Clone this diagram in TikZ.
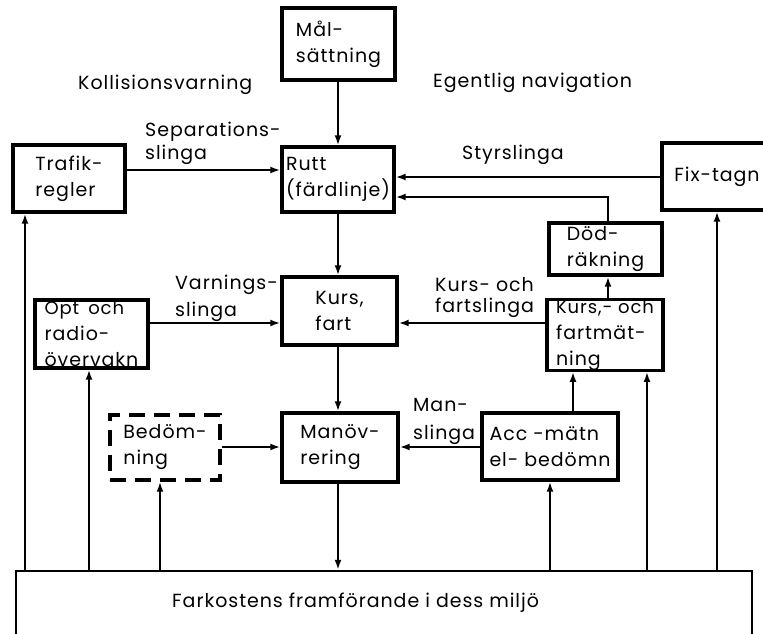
\documentclass[tikz,border=0pt]{standalone}
\usepackage{fontspec}
\setmainfont[LetterSpace=5]{Poppins}
\usetikzlibrary{arrows.meta}
\newcommand\figfont{\fontsize{19}{26}\selectfont}
\begin{document}
\begin{tikzpicture}[x=1pt,y=-1pt,
  box/.style={draw, line width=3.4pt, inner sep=0pt, align=left, font=\figfont},
  conn/.style={line width=2pt},
  arr/.style={conn, -{Latex[length=10pt,width=7pt]}},
  lbl/.style={font=\figfont, align=left, inner sep=0pt, anchor=west}]
\useasboundingbox (0,0) rectangle (763,633);
\clip (0,0) rectangle (763,633);
\fill[white] (0,0) rectangle (763,633);
% boxes
\node[box, minimum width=113, minimum height=72] (mal) at (338.5,44) {Mål-\\sättning};
\node[box, minimum width=112, minimum height=65] (rutt) at (338,179.5) {\fontsize{19}{28}\selectfont Rutt\\(färdlinje)};
\node[box, minimum width=112, minimum height=67] (trafik) at (69,178.5) {\fontsize{19}{28}\selectfont Trafik-\\regler};
\node[box, minimum width=110, minimum height=67] (fix) at (717,176.5) {Fix-tagn};
\node[box, minimum width=115, minimum height=68] (kursfart) at (339.5,311) {Kurs,\\fart};
\node[box, minimum width=116, minimum height=69] (manov) at (340,447.5) {\fontsize{19}{27}\selectfont Manöv-\\rering};
\node[box, minimum width=113, minimum height=68] (opt) at (91.5,334) {\fontsize{18}{20}\selectfont Opt\enspace och\\radio-\\övervakn};
\node[box, dash pattern=on 16pt off 9pt, minimum width=110, minimum height=65] (bedom) at (165,447.5) {Bedöm-\\ning};
\node[box, minimum width=113, minimum height=52] (dod) at (605.5,249) {\fontsize{19}{21}\selectfont Död-\\räkning};
\node[box, minimum width=116, minimum height=70] (kursoch) at (605,335) {\fontsize{18}{19}\selectfont Kurs,- och\\fartmät-\\ning};
\node[box, minimum width=136, minimum height=67] (acc) at (550,446.5) {Acc -mätn\\el- bedömn};
\node[draw, line width=2.4pt, minimum width=736, minimum height=64, inner sep=0pt] (env) at (384,603) {};
\node[lbl] (envtext) at (172,603) {Farkostens framförande i dess miljö};
% labels
\node[lbl] (kol) at (78,85) {Kollisionsvarning};
\node[lbl] (ege) at (433,83) {Egentlig navigation};
\node[lbl, font=\fontsize{19}{23}\selectfont] (sep) at (145,143.5) {Separations-\\slinga};
\node[lbl] (sty) at (462,155) {Styrslinga};
\node[lbl, font=\fontsize{19}{27}\selectfont] (var) at (175,298.5) {Varnings-\\slinga};
\node[lbl, font=\fontsize{19}{21}\selectfont] (kof) at (435,297.5) {Kurs- och\\fartslinga};
\node[lbl, font=\fontsize{19}{28}\selectfont] (man) at (413,421) {Man-\\slinga};
% coordinates
\coordinate (xa) at (25,0); \coordinate (xb) at (89,0); \coordinate (xc) at (160,0);
\coordinate (xd) at (550,0); \coordinate (xe) at (647,0); \coordinate (xf) at (717,0);
\coordinate (xg) at (573,0); \coordinate (xh) at (608,0); \coordinate (xm) at (338,0);
\coordinate (ya) at (0,170); \coordinate (yb) at (0,177); \coordinate (yc) at (0,197);
\coordinate (yd) at (0,323); \coordinate (ye) at (0,447);
% connectors
\draw[arr] (mal.south -| xm) -- (rutt.north -| xm);
\draw[arr] (trafik.east |- ya) -- (rutt.west |- ya);
\draw[arr] (fix.west |- yb) -- (rutt.east |- yb);
\draw[arr] (dod.north -| xh) |- (rutt.east |- yc);
\draw[arr] (rutt.south -| xm) -- (kursfart.north -| xm);
\draw[arr] (opt.east |- yd) -- (kursfart.west |- yd);
\draw[arr] (kursoch.west |- yd) -- (kursfart.east |- yd);
\draw[arr] (kursoch.north -| xh) -- (dod.south -| xh);
\draw[arr] (kursfart.south -| xm) -- (manov.north -| xm);
\draw[arr] (bedom.east |- ye) -- (manov.west |- ye);
\draw[arr] (acc.west |- ye) -- (manov.east |- ye);
\draw[arr] (acc.north -| xg) -- (kursoch.south -| xg);
\draw[arr] (manov.south -| xm) -- (env.north -| xm);
\draw[arr] (env.north -| xa) -- (trafik.south -| xa);
\draw[arr] (env.north -| xb) -- (opt.south -| xb);
\draw[arr] (env.north -| xc) -- (bedom.south -| xc);
\draw[arr] (env.north -| xd) -- (acc.south -| xd);
\draw[arr] (env.north -| xe) -- (kursoch.south -| xe);
\draw[arr] (env.north -| xf) -- (fix.south -| xf);
\end{tikzpicture}
\end{document}
